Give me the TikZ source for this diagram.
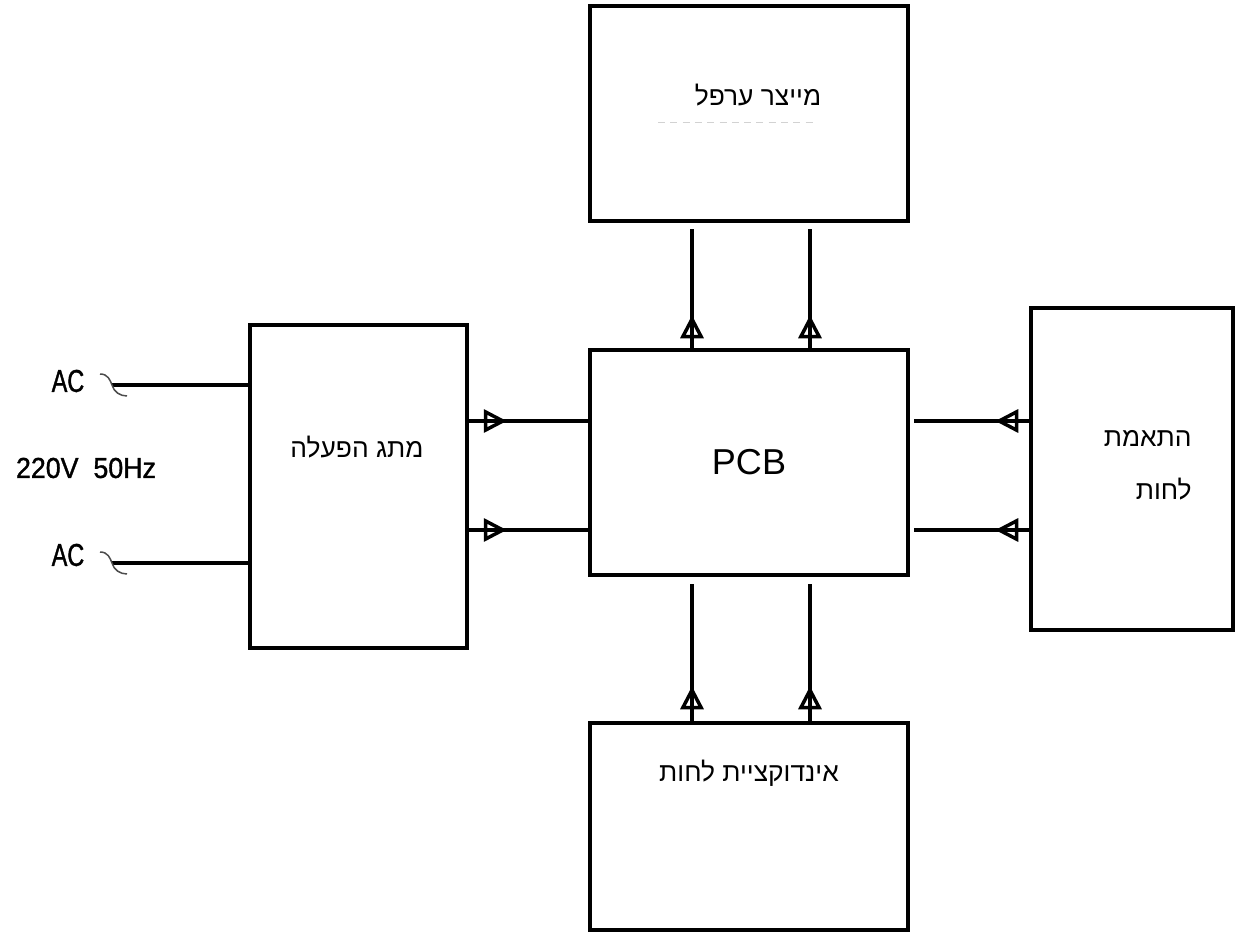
\documentclass[tikz,border=0pt]{standalone}
\usepackage{fontspec}
\setmainfont{Liberation Sans}
\newfontfamily\hebfont[Script=Hebrew]{Liberation Sans}
\newfontfamily\acfont[FakeStretch=0.74,FakeBold=1.2]{Liberation Sans}
\newfontfamily\voltfont[FakeStretch=0.93,FakeBold=1.2]{Liberation Sans}
\TeXXeTstate=1
\usetikzlibrary{positioning,calc,arrows.meta,decorations.markings}

\tikzset{
  blk/.style={draw, line width=0.7mm, inner sep=0pt},
  wire/.style={line width=0.7mm},
  plug/.style={line width=0.3mm, black!70},
  flow/.style={line width=0.7mm, postaction=decorate,
    decoration={markings, mark=at position #1 with
      {\arrow{Triangle[open,length=4.6mm,width=4.6mm,line width=0.7mm]}}}},
  flow/.default=7mm,
  heb/.style={font=\hebfont\fontsize{15}{24}\selectfont, inner sep=0pt}
}

\begin{document}
\begin{tikzpicture}[x=0.2mm,y=-0.2mm]
\useasboundingbox (0,0) rectangle (1235,932);
% blocks
\node[blk, minimum width=63.6mm, minimum height=43mm] (fog) at (749,113.5) {};
\node[blk, minimum width=63.6mm, minimum height=45mm, font=\fontsize{20.5}{24}\selectfont] (pcb) at (749,462.5) {PCB};
\node[blk, minimum width=43.4mm, minimum height=64.6mm] (switch) at (358.5,486.5) {};
\node[blk, minimum width=40.4mm, minimum height=64.4mm] (hum) at (1132,469) {};
\node[blk, minimum width=63.6mm, minimum height=41.4mm] (sensor) at (749,826.5) {};
% labels
\node[heb] (foglbl) at (758,95) {\beginR מייצר ערפל\endR};
\draw[gray!35, line width=0.2mm, dash pattern=on 4pt off 3pt] (658,122) -- (815,122);
\node[heb] (switchlbl) at (357,447) {\beginR מתג הפעלה\endR};
\node[heb, align=right, anchor=east] (humlbl) at (1192,465) {\beginR התאמת\endR\\[6pt]\beginR לחות\endR};
\node[heb] (sensorlbl) at (749,773) {\beginR אינדוקציית לחות\endR};
% mains input
\node[font=\acfont\fontsize{18}{20}\selectfont, inner sep=0pt] (ac1lbl) at (68,381) {AC};
\node[font=\acfont\fontsize{18}{20}\selectfont, inner sep=0pt] (ac2lbl) at (68,555) {AC};
\node[font=\voltfont\fontsize{16.4}{20}\selectfont, inner sep=0pt] (mains) at (86,468) {220V\ \ 50Hz};
\coordinate (ac1) at (112,385);
\coordinate (ac2) at (112,563);
\draw[wire] (ac1) -- (switch.west |- ac1);
\draw[wire] (ac2) -- (switch.west |- ac2);
\draw[plug, shift={(ac1)}] (-12,-11) .. controls (-4,-11) and (-2,-5) .. (0,0) .. controls (2,7) and (8,11) .. (15,11);
\draw[plug, shift={(ac2)}] (-12,-11) .. controls (-4,-11) and (-2,-5) .. (0,0) .. controls (2,7) and (8,11) .. (15,11);
% switch -> pcb
\draw[flow=7.6mm] (switch.east |- 0,421) -- (pcb.west |- 0,421);
\draw[flow=7.6mm] (switch.east |- 0,530) -- (pcb.west |- 0,530);
% pcb -> fog
\draw[flow=6.6mm] ($(pcb.north)+(-57,0)$) -- ($(fog.south)+(-57,6)$);
\draw[flow=6.6mm] ($(pcb.north)+(61,0)$) -- ($(fog.south)+(61,6)$);
% sensor -> pcb
\draw[flow] ($(sensor.north)+(-57,0)$) -- ($(pcb.south)+(-57,7)$);
\draw[flow] ($(sensor.north)+(61,0)$) -- ($(pcb.south)+(61,7)$);
% humidity -> pcb
\draw[flow=6.8mm] (hum.west |- 0,421) -- ($(pcb.east |- 0,421)+(4,0)$);
\draw[flow=6.8mm] (hum.west |- 0,530) -- ($(pcb.east |- 0,530)+(4,0)$);
\end{tikzpicture}
\end{document}
